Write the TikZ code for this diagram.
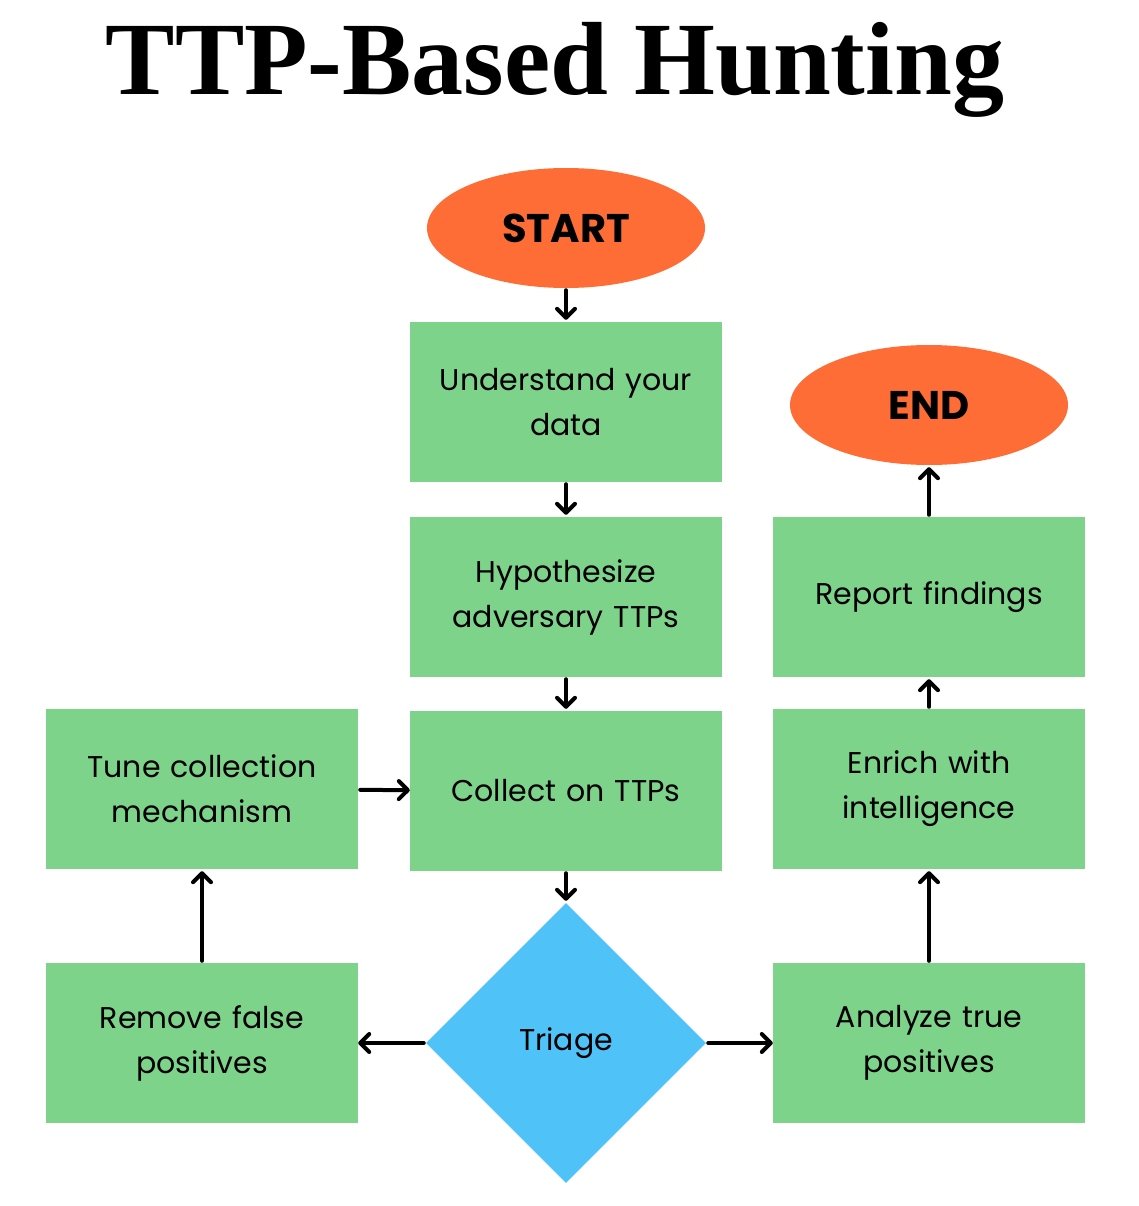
\documentclass[tikz,border=0pt]{standalone}
\usepackage{fontspec}
\setmainfont{Poppins}
\newfontfamily\titlefont{Liberation Serif}
\usetikzlibrary{arrows.meta,positioning,shapes.geometric}
\definecolor{HuntGreen}{HTML}{7DD38A}
\definecolor{HuntOrange}{HTML}{FF6D37}
\definecolor{HuntBlue}{HTML}{4FC3F7}
\definecolor{HuntInk}{HTML}{000000}

\begin{document}
\begin{tikzpicture}[
    x=1pt,y=-1pt,font=\fontsize{30}{45}\selectfont,
    stepbox/.style={fill=HuntGreen,minimum width=312pt,minimum height=160pt,
      text width=290pt,align=center,inner sep=0pt},
    terminal/.style={ellipse,fill=HuntOrange,minimum width=278pt,minimum height=120pt,
      inner sep=0pt,font=\fontsize{40}{44}\selectfont\bfseries},
    decision/.style={diamond,fill=HuntBlue,minimum width=280pt,minimum height=280pt,
      inner sep=0pt},
    arrow/.style={-{Straight Barb[length=9pt,width=18pt,round]},line width=4pt,
      line cap=round,draw=HuntInk}
  ]
    \useasboundingbox (0,0) rectangle (1138,1206);
    \node[font=\titlefont\fontsize{104}{110}\selectfont\bfseries] (title) at (555,70) {TTP-Based Hunting};

    \node[terminal] (start) at (566,228) {START};
    \node[stepbox] (understand) at (566,402) {Understand your\\data};
    \node[stepbox] (hypothesize) at (566,597) {Hypothesize\\adversary TTPs};
    \node[stepbox] (collect) at (566,791) {Collect on TTPs};
    \node[decision] (triage) at (566,1043) {Triage};
    \node[stepbox] (tune) at (202,789) {Tune collection\\mechanism};
    \node[stepbox] (remove) at (202,1043) {Remove false\\positives};
    \node[stepbox] (analyze) at (929,1043) {Analyze true\\positives};
    \node[stepbox] (enrich) at (929,789) {Enrich with\\intelligence};
    \node[stepbox] (report) at (929,597) {Report findings};
    \node[terminal] (end) at (929,405) {END};

    \draw[arrow,shorten <=2pt,shorten >=2pt] (start) -- (understand);
    \draw[arrow,shorten <=2pt,shorten >=2pt] (understand) -- (hypothesize);
    \draw[arrow,shorten <=2pt,shorten >=2pt] (hypothesize) -- (collect);
    \draw[arrow,shorten <=2pt,shorten >=2pt] (collect) -- (triage);
    \draw[arrow,shorten <=2pt] (tune) -- (collect);
    \draw[arrow,shorten <=2pt] (triage) -- (remove);
    \draw[arrow,shorten <=2pt] (triage) -- (analyze);
    \draw[arrow,shorten <=2pt,shorten >=2pt] (remove) -- (tune);
    \draw[arrow,shorten <=2pt,shorten >=2pt] (analyze) -- (enrich);
    \draw[arrow,shorten <=2pt,shorten >=2pt] (enrich) -- (report);
    \draw[arrow,shorten <=2pt,shorten >=2pt] (report) -- (end);
  \end{tikzpicture}
\end{document}
